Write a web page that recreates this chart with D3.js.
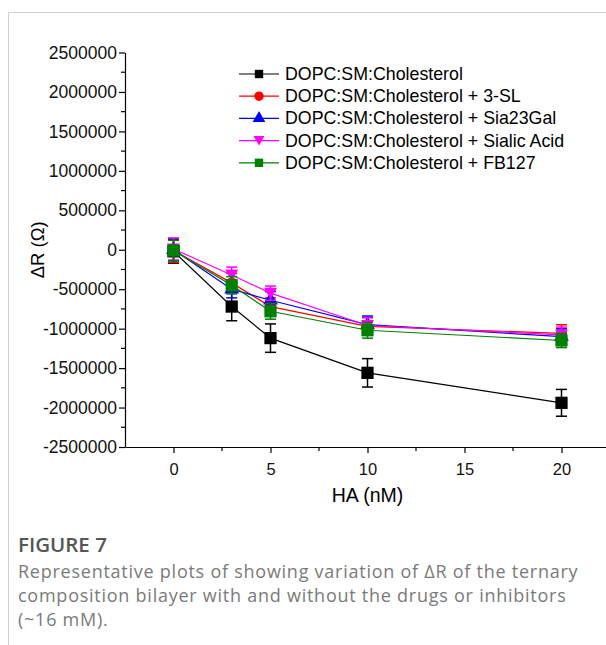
<!DOCTYPE html>
<html><head><meta charset="utf-8">
<script src="https://cdn.jsdelivr.net/npm/d3@7"></script>
<style>body{margin:0;background:#fff}svg{display:block}</style>
</head><body>
<svg id="c" width="606" height="645"></svg>
<script>
const xValues = [0, 3, 5, 10, 20];
const seriesNames = ["DOPC:SM:Cholesterol","DOPC:SM:Cholesterol + 3-SL","DOPC:SM:Cholesterol + Sia23Gal","DOPC:SM:Cholesterol + Sialic Acid","DOPC:SM:Cholesterol + FB127"];
const seriesColors = ["#000000","#ff0000","#0000ff","#ff00ff","#008000"];
const seriesSymbols = ["square","circle","triangle","triangleDown","square"];
const valsChol = [-20000, -720000, -1120000, -1560000, -1940000];
const errChol = [150000, 180000, 180000, 180000, 170000];
const vals3SL = [-10000, -420000, -720000, -970000, -1060000];
const err3SL = [150000, 120000, 110000, 110000, 110000];
const valsSia = [0, -500000, -640000, -950000, -1100000];
const errSia = [140000, 110000, 110000, 110000, 100000];
const valsSialic = [10000, -320000, -550000, -960000, -1080000];
const errSialic = [140000, 100000, 90000, 100000, 100000];
const valsFB = [-10000, -450000, -780000, -1020000, -1150000];
const errFB = [130000, 110000, 100000, 100000, 90000];
const yTicks = [-2500000,-2000000,-1500000,-1000000,-500000,0,500000,1000000,1500000,2000000,2500000];
const xTicks = [0,5,10,15,20];
const seriesVals = [valsChol, vals3SL, valsSia, valsSialic, valsFB];
const seriesErr = [errChol, err3SL, errSia, errSialic, errFB];

const svg = d3.select("#c");
// frame
svg.append("line").attr("x1",8.5).attr("x2",606).attr("y1",12.5).attr("y2",12.5).attr("stroke","#cfcfcf");
svg.append("line").attr("x1",8.5).attr("x2",8.5).attr("y1",12.5).attr("y2",645).attr("stroke","#cfcfcf");

const x = d3.scaleLinear().domain([-2.5, 22.5]).range([125, 610]);
const y = d3.scaleLinear().domain([-2500000, 2500000]).range([447, 52.5]);
const font = "Liberation Sans, Arial, sans-serif";

// y axis
const ya = svg.append("g").attr("transform","translate(125,0)")
  .call(d3.axisLeft(y).tickValues(yTicks).tickFormat(d=>String(d)).tickSize(6).tickSizeOuter(0));
ya.attr("font-family",font).attr("font-size",17.5);
ya.selectAll("text").attr("font-family",font).attr("font-size",17.5).attr("fill","#111").attr("x",-8);
ya.select(".domain").attr("stroke","#000").attr("stroke-width",1.2);
ya.selectAll(".tick line").attr("stroke","#000").attr("stroke-width",1.2);
const yMinor = d3.range(-2250000, 2500000, 500000);
svg.append("g").selectAll("line").data(yMinor).join("line")
  .attr("x1",125).attr("x2",121).attr("y1",d=>y(d)).attr("y2",d=>y(d)).attr("stroke","#000").attr("stroke-width",1.2);

// x axis
const xa = svg.append("g").attr("transform","translate(0,447)")
  .call(d3.axisBottom(x).tickValues(xTicks).tickSize(6).tickSizeOuter(0));
xa.attr("font-family",font).attr("font-size",16.5);
xa.selectAll("text").attr("font-family",font).attr("font-size",16.5).attr("fill","#111").attr("dy","1.15em");
xa.select(".domain").attr("stroke","#000").attr("stroke-width",1.2);
xa.selectAll(".tick line").attr("stroke","#000").attr("stroke-width",1.2);
const xMinor = d3.range(-2.5, 23, 5).slice(1);
svg.append("g").selectAll("line").data(xMinor).join("line")
  .attr("x1",d=>x(d)).attr("x2",d=>x(d)).attr("y1",447).attr("y2",451).attr("stroke","#000").attr("stroke-width",1.2);

// labels
svg.append("text").attr("x",x(10)).attr("y",502).attr("text-anchor","middle")
  .attr("font-family",font).attr("font-size",19.5).text("HA (nM)");
svg.append("text").attr("transform",`translate(44,${y(0)}) rotate(-90)`).attr("text-anchor","middle")
  .attr("font-family",font).attr("font-size",18.5).text("ΔR (Ω)");

function symbolPath(kind){
  if(kind==="square") return d3.symbol(d3.symbolSquare, 150)();
  if(kind==="circle") return d3.symbol(d3.symbolCircle, 95)();
  if(kind==="triangle") return d3.symbol(d3.symbolTriangle, 95)();
  return "M0,6 L-6.5,-5.5 L6.5,-5.5 Z";
}

const line = d3.line().x((d,i)=>x(xValues[i])).y(d=>y(d));
seriesVals.forEach((vals,s)=>{
  const col = seriesColors[s];
  const g = svg.append("g");
  g.append("path").attr("d",line(vals)).attr("fill","none").attr("stroke",col).attr("stroke-width",1.2);
  vals.forEach((v,i)=>{
    const e = seriesErr[s][i], cx = x(xValues[i]);
    g.append("line").attr("x1",cx).attr("x2",cx).attr("y1",y(v+e)).attr("y2",y(v-e)).attr("stroke",col).attr("stroke-width",1.5);
    [v+e, v-e].forEach(w=>g.append("line").attr("x1",cx-5.5).attr("x2",cx+5.5).attr("y1",y(w)).attr("y2",y(w)).attr("stroke",col).attr("stroke-width",1.5));
    g.append("path").attr("d",symbolPath(seriesSymbols[s])).attr("transform",`translate(${cx},${y(v)})`).attr("fill",col);
  });
});

// legend
const leg = svg.append("g");
seriesNames.forEach((n,i)=>{
  const yy = 74 + i*22.2;
  const col = seriesColors[i];
  leg.append("line").attr("x1",239).attr("x2",279).attr("y1",yy).attr("y2",yy).attr("stroke",col).attr("stroke-width",1.2);
  let p;
  if(seriesSymbols[i]==="square") p = d3.symbol(d3.symbolSquare, 70)();
  else if(seriesSymbols[i]==="circle") p = d3.symbol(d3.symbolCircle, 70)();
  else if(seriesSymbols[i]==="triangle") p = d3.symbol(d3.symbolTriangle, 70)();
  else p = "M0,5 L-5.5,-4.5 L5.5,-4.5 Z";
  leg.append("path").attr("d",p).attr("transform",`translate(259,${yy})`).attr("fill",col);
  leg.append("text").attr("x",285).attr("y",yy+6).attr("font-family",font).attr("font-size",17.8).text(n);
});

// caption
const cap = "Open Sans, Noto Sans, sans-serif";
svg.append("text").attr("x",18).attr("y",552).attr("font-family",cap).attr("font-size",20.5).attr("font-weight",600).attr("fill","#555").text("FIGURE 7");
["Representative plots of showing variation of ΔR of the ternary",
 "composition bilayer with and without the drugs or inhibitors",
 "(~16 mM)."].forEach((t,i)=>{
  svg.append("text").attr("x",18).attr("y",578+i*24).attr("font-family",cap).attr("font-size",18).attr("letter-spacing",0.75).attr("fill","#7a7a7a").text(t);
});
</script>
</body></html>
